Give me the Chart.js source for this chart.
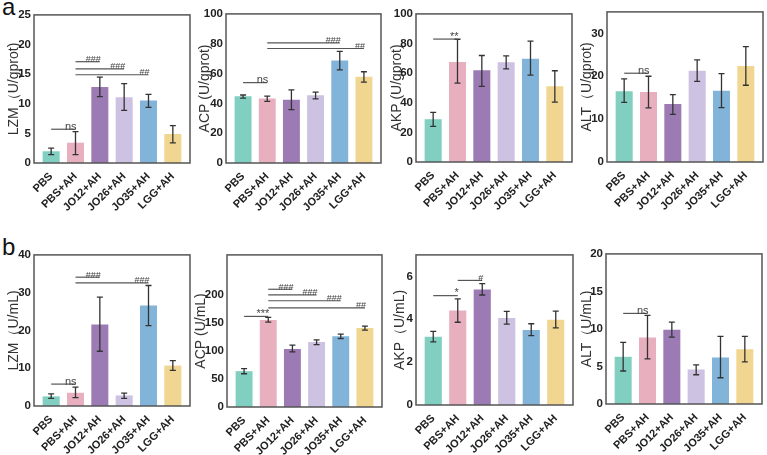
<!DOCTYPE html>
<html>

<head>
    <title>LZM / ACP / AKP / ALT</title>
    <script src="https://cdn.jsdelivr.net/npm/chart.js"></script>
    <style>
        body {
            margin: 0;
            background: #fff;
            width: 767px;
            height: 455px;
            overflow: hidden;
            position: relative;
            font-family: Arial, "Liberation Sans", sans-serif;
        }

        canvas {
            position: absolute;
        }

        .letter {
            position: absolute;
            left: 2px;
            font-size: 24px;
            line-height: 24px;
            color: #111;
        }
    </style>
</head>

<body>
    <div class="letter" style="top:-5px">a</div>
    <div class="letter" style="top:235px">b</div>

    <script>
        const groups = ['PBS', 'PBS+AH', 'JO12+AH', 'JO26+AH', 'JO35+AH', 'LGG+AH'];
        const colors = ['#80cfc0', '#e8b0bf', '#9c7bb5', '#cec2e2', '#82b4da', '#f1d692'];

        // row a, U/gprot
        const lzmGprot = [1.98, 3.43, 12.83, 11.1, 10.57, 4.9];
        const lzmGprotLo = [1.4, 1.4, 11.2, 8.9, 9.4, 3.4];
        const lzmGprotHi = [2.5, 5.3, 14.5, 13.4, 11.6, 6.3];
        const lzmGprotSig = [[0, 1, 5.7, 'ns'], [1, 2, 17.1, '###'], [1, 3, 15.9, '###'], [1, 4, 14.9, '##']];

        const acpGprot = [44.8, 43.2, 42.4, 45.4, 68.7, 57.9];
        const acpGprotLo = [43.5, 41.3, 35.8, 43, 62.4, 54.3];
        const acpGprotHi = [45.6, 44.8, 49, 47.5, 74.9, 61.2];
        const acpGprotSig = [[0, 1, 53.9, 'ns'], [1, 4, 80.5, '###'], [1, 5, 76.8, '##']];

        const akpGprot = [28.9, 67.6, 62, 67.4, 69.8, 51.2];
        const akpGprotLo = [24, 53.3, 51, 62.9, 58.7, 40.4];
        const akpGprotHi = [33.5, 82.9, 71.9, 71.7, 81.6, 61.6];
        const akpGprotSig = [[0, 1, 83, '**']];

        const altGprot = [16.5, 16.3, 13.5, 21.3, 16.6, 22.4];
        const altGprotLo = [13.9, 12.6, 11.1, 18.8, 12.7, 17.9];
        const altGprotHi = [19.4, 20, 15.7, 23.8, 20.6, 26.9];
        const altGprotSig = [[0, 1, 20.7, 'ns']];

        // row b, U/mL
        const lzmMl = [2.55, 3.5, 21.6, 2.8, 26.6, 10.7];
        const lzmMlLo = [2.0, 2.2, 14.5, 2.0, 21.3, 9.45];
        const lzmMlHi = [3.2, 5.0, 28.8, 3.4, 31.9, 12.0];
        const lzmMlSig = [[0, 1, 5.8, 'ns'], [1, 2, 34.1, '###'], [1, 4, 32.6, '###']];

        const acpMl = [63.6, 154.5, 102.8, 115.3, 125.6, 140.3];
        const acpMlLo = [59, 150.6, 97.7, 110.8, 121.6, 136.4];
        const acpMlHi = [68.2, 159, 109.7, 119.3, 129.5, 143.7];
        const acpMlSig = [[0, 1, 160.8, '***'], [1, 2, 209, '###'], [1, 3, 198.9, '###'], [1, 4, 188.6, '###'], [1, 5, 176, '##']];

        const akpMl = [3.18, 4.41, 5.39, 4.06, 3.5, 3.98];
        const akpMlLo = [2.94, 3.86, 5.13, 3.77, 3.24, 3.6];
        const akpMlHi = [3.43, 4.95, 5.66, 4.37, 3.79, 4.38];
        const akpMlSig = [[0, 1, 5.1, '*'], [1, 2, 5.81, '#']];

        const altMl = [6.29, 8.86, 9.9, 4.6, 6.2, 7.3];
        const altMlLo = [4.4, 6.0, 8.9, 3.9, 3.5, 5.6];
        const altMlHi = [8.2, 11.8, 10.9, 5.2, 9.0, 9.0];
        const altMlSig = [[0, 1, 12.07, 'ns']];

        // box = [left, top, right, bottom] of the framed plot area,
        // titleOff = distance from box left edge to the centre of the y title
        const panels = [
            { box: [34, 8, 190, 163], titleOff: 20, title: 'LZM（U/gprot)', max: 25, step: 5, data: lzmGprot, lo: lzmGprotLo, hi: lzmGprotHi, sig: lzmGprotSig },
            { box: [226, 7, 381, 163], titleOff: 21, title: 'ACP (U/gprot)', max: 100, step: 20, data: acpGprot, lo: acpGprotLo, hi: acpGprotHi, sig: acpGprotSig },
            { box: [416, 7, 572, 162], titleOff: 19, title: 'AKP (U/gprot)', max: 100, step: 20, data: akpGprot, lo: akpGprotLo, hi: akpGprotHi, sig: akpGprotSig },
            { box: [607, 5, 763, 162], titleOff: 20, title: 'ALT（U/gprot)', max: 35, step: 10, data: altGprot, lo: altGprotLo, hi: altGprotHi, sig: altGprotSig },
            { box: [34, 248, 190, 406], titleOff: 20, title: 'LZM（U/mL)', max: 40, step: 10, data: lzmMl, lo: lzmMlLo, hi: lzmMlHi, sig: lzmMlSig },
            { box: [227, 248, 382, 407], titleOff: 26, title: 'ACP (U/mL)', max: 270, step: 50, data: acpMl, lo: acpMlLo, hi: acpMlHi, sig: acpMlSig },
            { box: [416, 248, 573, 405], titleOff: 16, title: 'AKP（U/mL)', max: 7, step: 2, data: akpMl, lo: akpMlLo, hi: akpMlHi, sig: akpMlSig },
            { box: [606, 247, 762, 404], titleOff: 18.5, title: 'ALT（U/mL)', max: 20, step: 5, data: altMl, lo: altMlLo, hi: altMlHi, sig: altMlSig }
        ];

        const fontFamily = 'Arial, "Liberation Sans", sans-serif';
        const titleSize = 14;

        function makeDecor(p) {
            return {
                id: 'decor',
                afterDatasetsDraw(chart) {
                    const ctx = chart.ctx;
                    const xs = chart.scales.x;
                    const ys = chart.scales.y;
                    ctx.save();
                    // error bars
                    ctx.strokeStyle = '#333';
                    ctx.lineWidth = 1.3;
                    p.data.forEach((v, i) => {
                        const x = xs.getPixelForValue(i);
                        const y1 = ys.getPixelForValue(p.lo[i]);
                        const y2 = ys.getPixelForValue(p.hi[i]);
                        ctx.beginPath();
                        ctx.moveTo(x, y1);
                        ctx.lineTo(x, y2);
                        ctx.moveTo(x - 3, y1);
                        ctx.lineTo(x + 3, y1);
                        ctx.moveTo(x - 3, y2);
                        ctx.lineTo(x + 3, y2);
                        ctx.stroke();
                    });
                    // significance lines
                    ctx.strokeStyle = '#555';
                    ctx.lineWidth = 1.2;
                    ctx.fillStyle = '#444';
                    ctx.textAlign = 'right';
                    ctx.textBaseline = 'alphabetic';
                    p.sig.forEach(([a, b, val, label]) => {
                        const x1 = xs.getPixelForValue(a);
                        const x2 = xs.getPixelForValue(b);
                        const y = ys.getPixelForValue(val);
                        ctx.beginPath();
                        ctx.moveTo(x1, y);
                        ctx.lineTo(x2, y);
                        ctx.stroke();
                        const size = label.startsWith('#') ? 9 : 11;
                        ctx.font = size + 'px ' + fontFamily;
                        ctx.fillText(label, x2 + 1, y + 0.5);
                    });
                    ctx.restore();
                },
                afterDraw(chart) {
                    const a = chart.chartArea;
                    const ctx = chart.ctx;
                    ctx.save();
                    ctx.strokeStyle = '#555';
                    ctx.lineWidth = 1.5;
                    ctx.strokeRect(a.left - 5, a.top, a.right - a.left + 10, a.bottom - a.top);
                    ctx.restore();
                }
            };
        }

        panels.forEach(p => {
            const [L, T, R, B] = p.box;
            const canvas = document.createElement('canvas');
            const w = (R - L) + 44;
            const h = (B - T) + 70;
            canvas.width = w;
            canvas.height = h;
            canvas.style.left = (L - 40) + 'px';
            canvas.style.top = (T - 8) + 'px';
            canvas.style.width = w + 'px';
            canvas.style.height = h + 'px';
            document.body.appendChild(canvas);

            new Chart(canvas.getContext('2d'), {
                type: 'bar',
                data: {
                    labels: groups,
                    datasets: [{
                        data: p.data,
                        backgroundColor: colors,
                        borderWidth: 0,
                        barPercentage: 0.7,
                        categoryPercentage: 1
                    }]
                },
                options: {
                    responsive: false,
                    animation: false,
                    layout: {
                        padding: { left: 0, top: 8, right: 9, bottom: 0 }
                    },
                    plugins: {
                        legend: { display: false },
                        tooltip: { enabled: false }
                    },
                    scales: {
                        x: {
                            grid: { display: false, drawTicks: false },
                            border: { display: false },
                            ticks: {
                                autoSkip: false,
                                maxRotation: 45,
                                minRotation: 45,
                                padding: 7,
                                color: '#222',
                                font: { family: fontFamily, size: 11, weight: 'bold' }
                            },
                            afterFit: s => { s.height = 62; }
                        },
                        y: {
                            min: 0,
                            max: p.max,
                            grid: { display: false, drawTicks: false },
                            border: { display: false },
                            ticks: {
                                stepSize: p.step,
                                padding: 8,
                                color: '#222',
                                font: { family: fontFamily, size: 11.5, weight: 'bold' }
                            },
                            afterBuildTicks: s => {
                                s.ticks = s.ticks.filter(t => Math.abs(t.value / p.step - Math.round(t.value / p.step)) < 1e-6);
                            },
                            title: {
                                display: true,
                                text: p.title,
                                color: '#333',
                                font: { family: fontFamily, size: titleSize },
                                padding: { top: 40 - p.titleOff - titleSize * 0.6, bottom: 0 }
                            },
                            afterFit: s => { s.width = 45; }
                        }
                    }
                },
                plugins: [makeDecor(p)]
            });
        });
    </script>
</body>

</html>
